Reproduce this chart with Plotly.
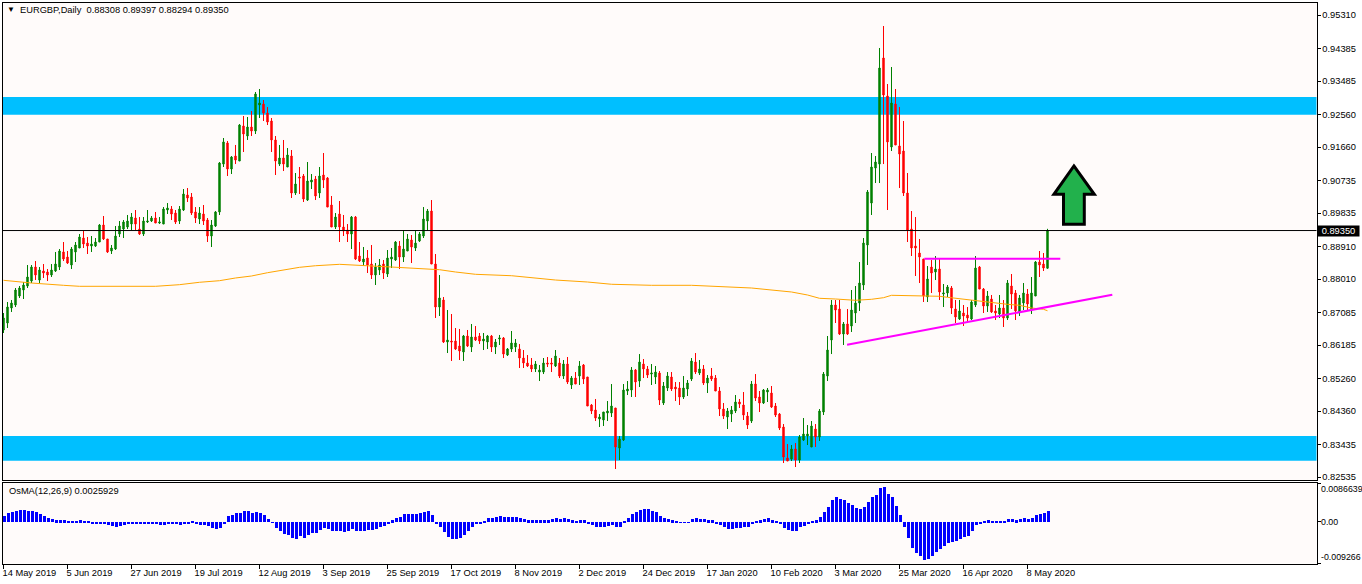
import plotly.graph_objects as go

POINT = 1e-5
W, H = 1362, 584

# daily candles, in price points (1 point = 0.00001)
high_pts = [87070,87374,87429,87761,87816,87927,88397,88397,88507,88341,
88424,88286,88424,88757,88839,89033,88784,88895,89033,89254,
89337,89171,89199,89143,89530,89752,89116,88950,89475,89613,
89641,89780,89835,89918,89724,89724,89918,89752,89863,89724,
90000,90111,90028,89918,90028,90498,90526,90388,90000,90000,
90056,89697,89641,89890,91245,91909,91826,91411,91716,92296,
92517,92490,92655,93181,93264,92960,92766,92462,91964,91716,
91854,91632,91577,90941,91107,90913,91245,90913,90858,91107,
91494,90830,90305,89835,90167,89780,89530,89752,89752,89033,
88895,88812,88950,88452,88563,88535,88812,88867,89060,89060,
89365,89254,89227,89337,89309,90000,89945,90194,88701,88121,
87512,87153,87042,86655,86628,86462,86600,86766,86710,86517,
86517,86462,86462,86351,86462,86406,86102,86572,86351,86212,
86046,85908,85825,85742,85632,85825,85853,85825,86046,85825,
85770,85853,85327,85438,85742,85659,85300,84553,84692,84276,
84332,84636,85106,84443,83668,85106,85189,85576,85521,85935,
85797,85604,85659,85604,85466,85161,85438,85438,85161,85161,
85327,85217,85825,85963,85770,85632,85355,85549,85355,85023,
84581,84443,84498,84802,84692,84885,84332,85189,85382,84913,
84968,84996,85051,84581,84304,84000,83447,83419,83475,83696,
84166,83973,84083,84000,84415,85438,86434,87429,87429,87429,
86821,87180,87706,87816,88480,89143,90471,91494,91411,94398,
95006,93402,93872,93264,92766,92379,90941,89890,89724,89116,
88563,88369,88535,88646,88563,87872,87844,87816,87429,87429,
87291,87235,87429,88646,88369,87761,87678,87568,87291,87568,
87429,87982,88148,87706,87568,87899,87733,88065,88507,88784,
88729,89397]

low_pts = [86517,86655,87098,87235,87485,87457,87761,87899,87982,87899,
88038,87954,88065,88204,88259,88507,88424,88286,88480,88867,
88867,88701,88757,88895,89033,89088,88729,88701,88812,89171,
89143,89392,89365,89365,89227,89199,89558,89586,89558,89530,
89530,89807,89641,89530,89530,89890,90139,89780,89558,89530,
89503,89033,88895,89448,89780,91107,90858,90913,91189,91273,
91522,91854,91964,92019,92462,92379,92268,91522,90886,91134,
90996,91107,90250,90333,90360,90139,90167,90498,90194,90250,
90526,90000,89448,89392,89033,89199,89033,88839,88535,88480,
88369,88176,88010,87844,88121,88010,88065,88314,88507,88286,
88480,88784,88452,88784,89033,89143,89337,88424,86932,86987,
86240,85963,85743,86046,85770,85743,86129,85991,86295,86212,
86046,86074,85991,85935,86185,85825,85880,85991,85991,85549,
85549,85576,85438,85438,85189,85382,85576,85438,85576,85272,
85245,85106,84968,85106,85079,85106,84498,84276,84083,83917,
83945,84083,84194,82756,83005,83530,84802,84747,84747,85023,
85272,85272,85079,85106,84526,84526,84913,84913,84636,84526,
84692,84775,85189,85382,85355,85079,84857,85189,84913,84221,
84138,83862,84055,84304,84443,84111,83862,84028,84636,84332,
84553,84609,84443,84194,83834,82922,82977,82977,82811,82922,
83530,83419,83364,83364,83530,84249,85189,85935,86793,86462,
86185,86462,86545,86793,87125,87706,88397,89780,90664,90664,
91189,89918,91549,91716,90526,90305,89033,88646,88093,87899,
87374,87374,87623,87982,87429,87235,87512,87042,86793,86876,
86710,86793,86876,87235,87733,87070,87098,87070,86876,86932,
86683,86876,87180,86876,86987,87153,87153,87042,87540,88065,
88231,88294]

open_pts = [86600,86793,87208,87291,87540,87706,87816,87954,88341,87982,
88231,88204,88121,88231,88341,88757,88618,88397,88757,88867,
89143,89005,88922,88922,89033,89503,89116,88784,88839,89254,
89392,89448,89530,89697,89392,89254,89586,89613,89697,89558,
89530,89918,89945,89835,89613,89918,90333,90277,89863,89669,
89807,89641,89199,89475,89863,91189,91771,91051,91411,91273,
92241,91964,92213,92102,92822,92849,92600,92379,91854,91189,
91356,91107,91411,90388,90830,90858,90194,90692,90775,90388,
90886,90803,90056,89448,89807,89448,89365,89254,89724,88646,
88480,88591,88424,88121,88259,88424,88148,88563,88535,88922,
88618,88784,89088,88867,89060,89199,89613,89890,88424,87235,
87429,86268,86295,86295,86157,85991,86434,86129,86406,86434,
86295,86268,86434,86129,86351,86379,85908,86074,86129,86074,
85825,85687,85632,85521,85438,85438,85687,85687,85604,85687,
85327,85659,85079,85272,85327,85632,85300,84526,84387,84138,
84111,84304,84304,84443,83336,83558,84913,84940,85493,85189,
85659,85521,85382,85300,85410,84581,84996,85300,85023,84996,
84747,84968,85245,85714,85410,85521,85134,85327,85272,84913,
84415,84194,84276,84360,84609,84526,84221,84083,85106,84747,
84581,84885,84857,84498,84276,83917,83060,83032,83309,83005,
83558,83668,83364,83862,83640,84332,85327,86323,87291,87180,
86489,86766,86710,87070,87346,87844,88950,90111,91079,91189,
94121,93070,91660,92849,91688,91549,90388,89392,88922,88729,
88563,87512,88341,88204,88286,87595,87623,87761,87180,86904,
87070,87014,86904,87291,88341,87733,87263,87457,87125,87042,
87208,86932,87816,87623,87098,87346,87595,87180,87540,88480,
88424,88308]

close_pts = [86932,87235,87346,87706,87761,87844,88065,88341,88121,88259,
88176,88121,88259,88424,88784,88563,88452,88839,88950,89171,
88977,88922,88977,89033,89503,89116,88757,88867,89199,89475,
89586,89613,89724,89530,89254,89613,89613,89697,89558,89586,
89945,89973,89807,89586,89945,90360,90250,89835,89697,89835,
89613,89199,89503,89863,91217,91799,91051,91383,91300,92268,
92019,92213,92102,93126,92877,92600,92351,91854,91273,91356,
91189,91439,90388,90637,90803,90222,90720,90747,90305,90858,
90747,90000,89448,89724,89448,89337,89254,89724,88563,88507,
88563,88397,88121,88341,88397,88176,88591,88618,89033,88618,
88839,89116,88895,89005,89254,89669,89890,88424,87235,87485,
86268,86323,86268,86074,86019,86434,86157,86406,86323,86295,
86351,86434,86129,86268,86379,85935,86074,86240,86240,85825,
85687,85604,85521,85659,85493,85687,85659,85659,85880,85327,
85659,85161,85272,85106,85604,85245,84498,84360,84166,84194,
84332,84360,84498,83364,83585,84940,84968,85493,85161,85714,
85521,85355,85410,85438,84664,85051,85327,84968,84968,84747,
84996,85134,85742,85438,85521,85134,85272,85245,84913,84415,
84221,84360,84387,84609,84553,84249,83973,85106,84719,84581,
84940,84940,84470,84249,83889,83087,82977,83309,83005,83640,
83723,83723,83945,83640,84360,85382,86046,87291,87153,86489,
86766,86489,87153,87346,87899,89005,90415,91107,91245,93844,
93098,91799,92877,91716,91466,90388,89365,88867,88867,88618,
87540,88010,88176,88286,87651,87623,87789,87208,86959,87125,
86987,86932,87374,88314,87733,87263,87540,87098,87070,87208,
86932,87899,87595,87125,87485,87623,87319,87623,88480,88397,
88314,89350]

# moving average, read at these bars
ma_bars = [0,7,15,19,38,44,49,54,58,62,66,70,74,78,84,97,102,109,113,118,127,133,138,146,152,162,172,187,197,201,204,208,213,217,220,222,231,234,236,238,241,243,248,251,254,256,257,260,261]
ma_pts = [87974,87899,87836,87808,87808,87853,87919,87963,88038,88093,88184,88267,88333,88377,88416,88341,88306,88267,88204,88140,88101,88038,87982,87927,87864,87836,87836,87761,87651,87568,87476,87457,87421,87449,87493,87559,87554,87532,87504,87476,87449,87421,87338,87310,87283,87227,87208,87172,87133]

# OsMA histogram, in units of 0.00001
osma_pts = [133,200,222,244,266,266,244,244,222,178,
133,89,67,44,44,44,22,22,22,44,
22,7,-22,-22,-22,-44,-67,-89,-111,-89,
-67,-44,-44,-22,-22,-22,-44,-44,-44,-67,
-67,-44,-44,-44,-67,-44,-22,22,-22,-67,
-67,-89,-133,-155,-133,-22,133,155,200,200,
244,244,200,222,200,155,67,-7,-133,-200,
-266,-289,-355,-370,-311,-355,-289,-244,-244,-178,
-133,-155,-200,-200,-200,-222,-200,-155,-200,-200,
-200,-178,-178,-155,-111,-89,-44,44,89,111,
178,178,178,178,200,222,244,155,-22,-111,
-222,-333,-377,-377,-355,-289,-200,-111,-44,-22,
22,89,89,111,133,111,111,111,111,89,
67,44,44,44,44,44,44,67,89,67,
89,67,44,22,44,44,-22,-67,-111,-111,
-111,-89,-67,-111,-111,22,89,178,222,266,
289,289,244,222,133,89,67,44,22,-7,
-7,-7,67,89,67,67,44,44,-22,-67,
-111,-155,-155,-133,-133,-111,-111,-22,22,44,
67,89,44,22,-44,-133,-178,-200,-200,-111,
-89,-44,22,44,111,222,333,488,555,511,
488,422,377,311,289,333,444,555,599,755,
777,622,555,355,155,-111,-355,-577,-688,-755,
-844,-821,-755,-666,-599,-533,-466,-444,-422,-377,
-333,-311,-200,-67,-22,22,44,22,22,7,
7,67,67,44,67,89,67,89,155,178,
200,259]

date_bars = [0,16,32,48,64,80,96,112,128,144,160,176,192,208,224,240,256]
date_labels = ["14 May 2019","5 Jun 2019","27 Jun 2019","19 Jul 2019","12 Aug 2019","3 Sep 2019","25 Sep 2019","17 Oct 2019","8 Nov 2019","2 Dec 2019","24 Dec 2019","17 Jan 2020","10 Feb 2020","3 Mar 2020","25 Mar 2020","16 Apr 2020","8 May 2020"]
price_ticks = ["0.95310","0.94385","0.93485","0.92560","0.91660","0.90735","0.89835","0.88910","0.88010","0.87085","0.86185","0.85260","0.84360","0.83435","0.82535"]
osma_ticks = [0.0086639, 0.0, -0.0092667]
osma_tick_labels = ["0.0086639", "0.00", "-0.009266"]

zone_upper = (0.92553, 0.93043)
zone_lower = (0.82986, 0.83668)
last_price = 0.89350
flat_line = ((230.2, 0.88571), (264.2, 0.88571))
rising_line = ((210.9, 0.86193), (277.2, 0.87576))
arrow_bars = [267.6, 272.7, 270.2, 270.2, 265.0, 265.0, 262.6]
arrow_prices = [0.91135, 0.90352, 0.90352, 0.89523, 0.89523, 0.90352, 0.90352]

assert len(high_pts) == len(low_pts) == len(open_pts) == len(close_pts) == len(osma_pts) == 262, (len(high_pts), len(low_pts), len(open_pts), len(close_pts), len(osma_pts))
bars = list(range(262))
to_price = lambda s: [round(v * POINT, 5) for v in s]

FONT = "Liberation Sans"
TXT = 9.3
BG = "#FFFBFA"
fig = go.Figure()
fig.add_trace(go.Candlestick(
    x=bars, open=to_price(open_pts), high=to_price(high_pts), low=to_price(low_pts), close=to_price(close_pts),
    increasing=dict(line=dict(color="#008000", width=1), fillcolor="#008000"),
    decreasing=dict(line=dict(color="#FF0000", width=1), fillcolor="#FF0000"),
    whiskerwidth=0, showlegend=False, xaxis="x", yaxis="y"))
fig.add_trace(go.Scatter(x=ma_bars, y=to_price(ma_pts), mode="lines",
    line=dict(color="#FFA500", width=1), showlegend=False, xaxis="x", yaxis="y"))
fig.add_trace(go.Bar(x=bars, y=[v * POINT for v in osma_pts], width=0.75,
    marker=dict(color="#0000FF", line=dict(width=0)), showlegend=False, xaxis="x2", yaxis="y2"))

def band(z):
    return dict(type="rect", xref="paper", x0=2.5/W, x1=1316.5/W, yref="y", y0=z[0], y1=z[1],
                fillcolor="#00BFFF", line=dict(width=0), layer="below")
def seg(s, color, width):
    return dict(type="line", xref="x", yref="y", x0=s[0][0], y0=s[0][1], x1=s[1][0], y1=s[1][1],
                line=dict(color=color, width=width), layer="above")
arrow_path = "M " + " L ".join(f"{a} {b}" for a, b in zip(arrow_bars, arrow_prices)) + " Z"
shapes = [band(zone_upper), band(zone_lower),
    dict(type="line", xref="paper", x0=2.5/W, x1=1316.5/W, yref="y", y0=last_price, y1=last_price,
         line=dict(color="#000000", width=1), layer="above"),
    seg(flat_line, "#FF00FF", 2), seg(rising_line, "#FF00FF", 2),
    dict(type="path", xref="x", yref="y", path=arrow_path, fillcolor="#22B14C",
         line=dict(color="#000000", width=3), layer="above")]

def label(text, px, py, size=TXT, color="#000000", **kw):
    return dict(text=text, xref="paper", yref="paper", x=px/W, y=1-py/H, xanchor="left", yanchor="middle",
                showarrow=False, font=dict(family=FONT, size=size, color=color), **kw)
anns = [
    label("▼", 4.5, 9.5, size=8),
    label("EURGBP,Daily  0.88308 0.89397 0.88294 0.89350", 18, 10),
    label("OsMA(12,26,9) 0.0025929", 7, 491),
    dict(text="0.89350", xref="paper", yref="y", x=1338.5/W, y=last_price, xanchor="center", yanchor="middle",
         showarrow=False, bgcolor="#000000", width=41, height=10, borderpad=0,
         font=dict(family=FONT, size=TXT, color="#FFFFFF")),
]
for txt, py in zip(osma_tick_labels, [489, 522, 557]):
    anns.append(label(txt, 1319, py, size=8.8))

tick_font = dict(family=FONT, size=TXT, color="#000000")
axis_common = dict(showgrid=False, zeroline=False, showline=True, linecolor="#000000", linewidth=1, mirror=True, automargin=False)
x_range = [(2.5-3.5)/4, (1316.5-3.5)/4]
y_top, y_bot = (95725-27.652*2.5)*POINT, (95725-27.652*480)*POINT
per_px = (osma_ticks[0]-osma_ticks[2])/80

fig.update_layout(
    template="none",
    width=W, height=H, autosize=False, margin=dict(l=0, r=0, t=0, b=0, pad=0, autoexpand=False),
    paper_bgcolor="#FFFFFF", plot_bgcolor=BG, boxgap=0.5, bargap=0, showlegend=False,
    shapes=shapes, annotations=anns, hovermode=False,
    xaxis=dict(domain=[2.5/W, 1316.5/W], range=x_range, type="linear", anchor="y", rangeslider=dict(visible=False),
               showticklabels=False, ticks="", **axis_common),
    xaxis2=dict(domain=[2.5/W, 1316.5/W], range=x_range, type="linear", anchor="y2",
                tickmode="array", tickvals=date_bars, ticktext=date_labels, ticks="outside", ticklen=4, tickcolor="#000000",
                ticklabelposition="outside right", ticklabelshift=-2, tickangle=0, tickfont=tick_font, **axis_common),
    yaxis=dict(domain=[1-480/H, 1-2.5/H], range=[y_bot, y_top], anchor="x", side="right",
               tickmode="array", tickvals=[float(t) for t in price_ticks], ticktext=price_ticks,
               ticks="outside", ticklen=3, tickcolor="#000000", tickfont=tick_font, **axis_common),
    yaxis2=dict(domain=[1-563.5/H, 1-482.5/H], range=[osma_ticks[2]-0.5*per_px, osma_ticks[0]+0.5*per_px],
                anchor="x2", side="right", tickmode="array", tickvals=osma_ticks, ticktext=["", "", ""],
                ticks="outside", ticklen=3, tickcolor="#000000", **axis_common),
)
fig.write_html("out.html", config=dict(displayModeBar=False), post_script="document.body.style.margin='0';")
